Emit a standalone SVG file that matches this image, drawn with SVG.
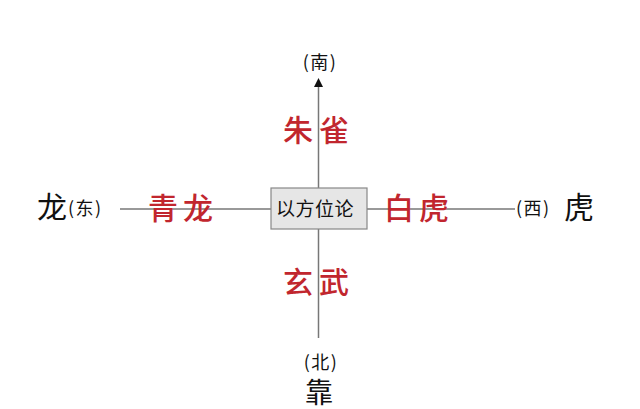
<svg xmlns="http://www.w3.org/2000/svg" width="640" height="409" viewBox="0 0 640 409">
<style>
.k{font-family:"Noto Sans CJK SC","Noto Sans",sans-serif;fill:#111;}
.r{font-family:"Noto Sans CJK SC","Noto Sans",sans-serif;fill:#c1262e;font-size:30px;font-weight:500;}
.p{font-size:18px;letter-spacing:1.5px;}
.b{font-size:30px;}
.ln{stroke:#777;stroke-width:1.5;fill:none;}
</style>
<rect width="640" height="409" fill="#fff"/>
<g id="connectors">
<line class="ln" x1="318.5" y1="338" x2="318.5" y2="86"/>
<path d="M314,87 L318.5,78 L323,87 Z" fill="#111"/>
<line class="ln" x1="120" y1="209" x2="515" y2="209"/>
</g>
<g id="center">
<rect x="271" y="188" width="96" height="41" fill="#e6e6e6" stroke="#888" stroke-width="1.2"/>
<text class="k" x="315" y="216" font-size="19" text-anchor="middle" letter-spacing="0.5">以方位论</text>
</g>
<g id="south">
<text class="k p" x="320" y="69" text-anchor="middle">(南)</text>
<text class="r" x="319" y="141" text-anchor="middle" letter-spacing="6">朱雀</text>
</g>
<g id="north">
<text class="r" x="319" y="293" text-anchor="middle" letter-spacing="6">玄武</text>
<text class="k p" x="321" y="369" text-anchor="middle">(北)</text>
<text class="k" x="319" y="403" font-size="28" text-anchor="middle">靠</text>
</g>
<g id="east">
<text class="k b" x="37" y="218">龙</text>
<text class="k p" x="68" y="215">(东)</text>
<text class="r" x="148" y="219" letter-spacing="5">青龙</text>
</g>
<g id="west">
<text class="r" x="384" y="219" letter-spacing="5">白虎</text>
<text class="k p" x="516" y="215">(西)</text>
<text class="k b" x="564" y="218">虎</text>
</g>
</svg>
